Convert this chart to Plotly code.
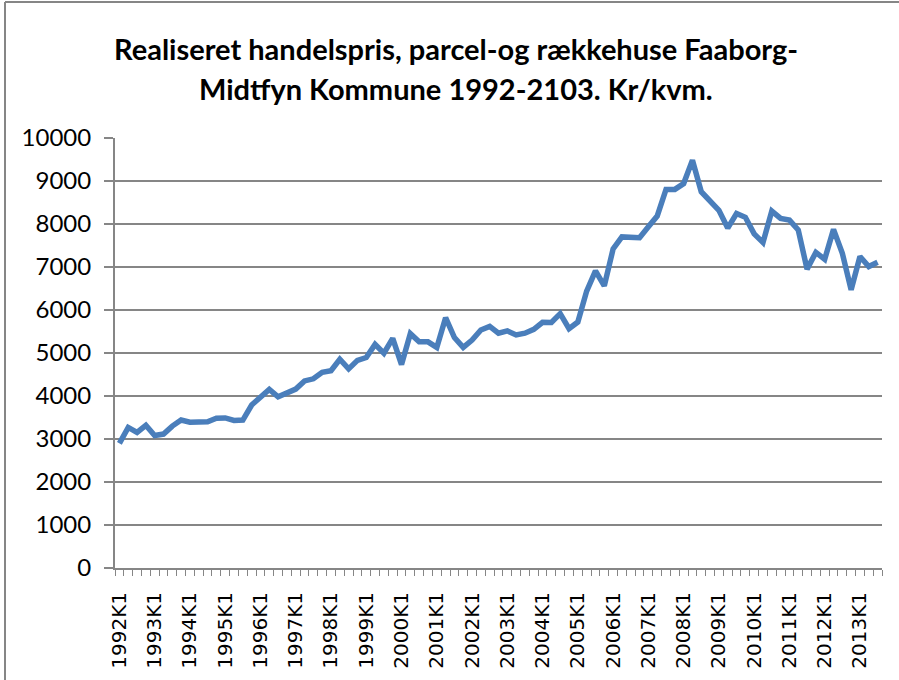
import plotly.graph_objects as go

# Quarterly realised sales price, detached and terraced houses (kr per m2)
years = list(range(1992, 2014))
quarters = [f"{y}K{q}" for y in years for q in range(1, 5)][:87]  # 1992K1 .. 2013K3

prices = [
    2900, 3270, 3155, 3320, 3080, 3115, 3300, 3440,   # 1992-1993
    3390, 3400, 3400, 3485, 3490, 3430, 3440, 3790,   # 1994-1995
    3965, 4155, 3980, 4085, 4160, 4350, 4400, 4550,   # 1996-1997
    4590, 4855, 4630, 4830, 4895, 5200, 4995, 5340,   # 1998-1999
    4730, 5450, 5260, 5260, 5130, 5820, 5360, 5130,   # 2000-2001
    5300, 5535, 5620, 5460, 5515, 5420, 5460, 5550,   # 2002-2003
    5715, 5710, 5915, 5565, 5720, 6440, 6910, 6560,   # 2004-2005
    7420, 7700, 7690, 7680, 7935, 8185, 8805, 8805,   # 2006-2007
    8940, 9485, 8750, 8530, 8320, 7905, 8245, 8155,   # 2008-2009
    7770, 7570, 8300, 8130, 8090, 7860, 6950, 7340,   # 2010-2011
    7180, 7875, 7320, 6470, 7245, 7010, 7110,         # 2012-2013
]

label_idx = list(range(0, len(quarters), 4))
label_text = [quarters[i] for i in label_idx]
y_ticks = list(range(0, 10001, 1000))
y_ticktext = [str(v) for v in y_ticks]

title_lines = [
    "Realiseret handelspris, parcel-og rækkehuse Faaborg-",
    "Midtfyn Kommune 1992-2103. Kr/kvm.",
]

grid_col = "#868686"
line_col = "#4A7EBB"

fig = go.Figure()
fig.add_trace(go.Scatter(
    x=list(range(len(prices))),
    y=prices,
    mode="lines",
    line=dict(color=line_col, width=5.5, shape="linear"),
    hoverinfo="x+y",
))

fig.update_layout(
    width=899, height=680,
    margin=dict(l=115, r=17, t=138, b=112),
    paper_bgcolor="white", plot_bgcolor="white",
    showlegend=False,
    xaxis=dict(
        range=[-0.5, len(prices) - 0.5],
        tickmode="array", tickvals=label_idx, ticktext=label_text,
        tickangle=-90, ticks="",
        tickfont=dict(family="DejaVu Sans", size=20, color="black"),
        ticklabelstandoff=14,
        showgrid=False, zeroline=False,
        showline=True, linecolor=grid_col, linewidth=2,
        minor=dict(ticks="outside", tick0=-0.5, dtick=1, ticklen=6,
                   tickcolor=grid_col, tickwidth=1, showgrid=False),
    ),
    yaxis=dict(
        range=[0, 10000],
        tickmode="array", tickvals=y_ticks, ticktext=y_ticktext,
        ticks="outside", ticklen=9, tickcolor=grid_col, tickwidth=2,
        tickfont=dict(family="Lato", size=24, color="black"),
        ticklabelstandoff=8,
        showgrid=True, gridcolor=grid_col, gridwidth=2,
        zeroline=False,
        showline=True, linecolor=grid_col, linewidth=2,
    ),
)

# Two-line bold heading
for txt, ypx in zip(title_lines, [48, 88]):
    fig.add_annotation(
        text=f"<b>{txt}</b>", xref="paper", yref="paper",
        x=(456 - 115) / (899 - 115 - 17), y=1 + (138 - ypx) / (680 - 138 - 112),
        xanchor="center", yanchor="middle", showarrow=False,
        font=dict(family="Lato", size=29, color="black"),
    )

# Outer frame of the chart area
fig.add_shape(type="line", xref="paper", yref="paper",
              x0=-110 / 767, x1=1 + 17 / 767, y0=1 + 136 / 430, y1=1 + 136 / 430,
              line=dict(color=grid_col, width=2))
fig.add_shape(type="line", xref="paper", yref="paper",
              x0=-110 / 767, x1=-110 / 767, y0=-112 / 430, y1=1 + 136 / 430,
              line=dict(color=grid_col, width=2))

fig.write_html("out.html")
